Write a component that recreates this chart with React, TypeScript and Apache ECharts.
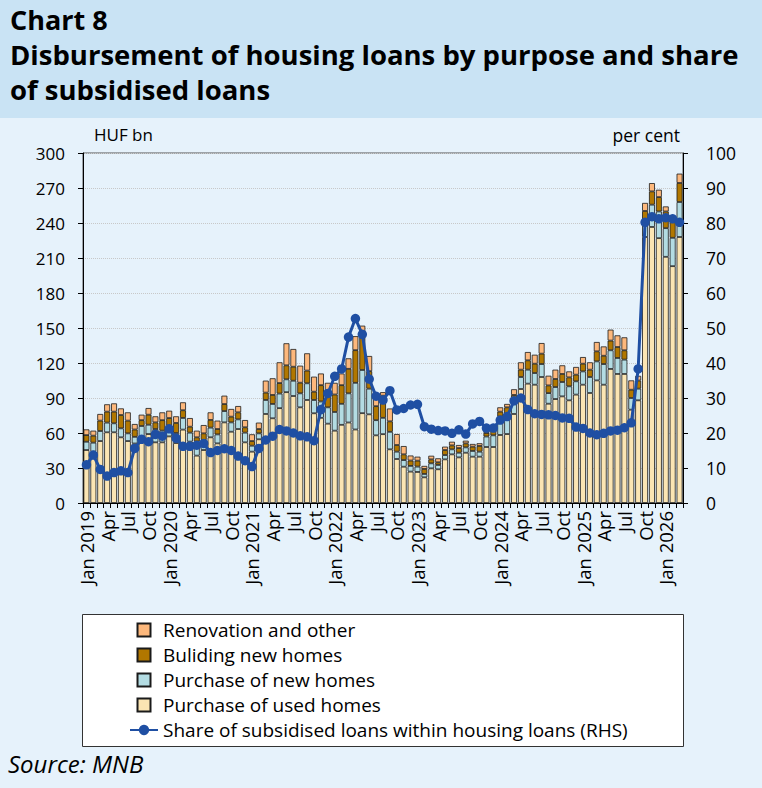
import React, { useEffect, useRef } from "react";
import * as echarts from "echarts";

const MONTHS = ["Jan", "Feb", "Mar", "Apr", "May", "Jun", "Jul", "Aug", "Sep", "Oct", "Nov", "Dec"];
const FIRST_YEAR = 2019;
const MONTH_COUNT = 87; // Jan 2019 – Mar 2026
const categories: string[] = [];
for (let i = 0; i < MONTH_COUNT; i++) {
  const m = i % 12;
  const y = FIRST_YEAR + Math.floor(i / 12);
  categories.push(m === 0 ? `Jan ${y}` : MONTHS[m]);
}

// HUF bn
const usedHomes = [
  45.4, 44, 53.1, 60.6, 60.6, 56.3, 53.1, 51, 57, 59.1, 52, 52,
  57.1, 51.4, 62.9, 52.6, 40.6, 45.4, 56.3, 51.1, 69.1, 61.1, 63.4, 52,
  44, 54.6, 76.3, 72.6, 81.3, 95, 91.7, 82, 88.3, 76.9, 73, 68,
  62, 67, 69, 63, 77, 76, 58, 59, 46, 37.7, 31.1, 26.9,
  26.6, 22, 29.7, 28.9, 37.4, 41.7, 39.1, 43.1, 39.7, 39.7, 48, 48,
  58.3, 59.1, 76.3, 97.7, 102.3, 101.4, 108, 85.1, 89.1, 91.4, 88, 92.9,
  101.4, 94.3, 105.1, 101.4, 114.9, 110.6, 110.6, 80, 88, 228, 236.6, 227,
  211, 203, 228,
];
const newHomes = [
  7.1, 7.7, 8.6, 8.3, 7.7, 7.7, 6.6, 5.7, 9, 8, 11.4, 10,
  9.1, 8.6, 10, 7.7, 12, 8.6, 8.3, 7.7, 9.7, 8, 8.3, 8.3,
  5.1, 5.1, 12, 12.3, 12.5, 11, 13.1, 12, 14.3, 11.4, 14, 14,
  16, 18, 25, 40, 37, 22, 13, 14, 15, 6.3, 5.7, 4.9,
  4.6, 2.9, 4.3, 3.7, 3.7, 4.3, 4, 4.6, 4.9, 4.3, 9, 10,
  15.7, 16.3, 13.4, 10.3, 12, 10, 11.1, 9.1, 10.3, 12.3, 12, 11.4,
  11.4, 13.7, 16.3, 17.7, 16, 13.7, 12.3, 10, 10, 14.3, 19.1, 22.9,
  24.6, 24.3, 30,
];
const buildingNew = [
  5.7, 6, 8.9, 9.4, 10, 11.4, 10.9, 6.3, 5, 8.6, 5.7, 9,
  6.6, 8.6, 6.6, 5.1, 3.7, 5.7, 6.6, 4.6, 6, 4.9, 6, 4.6,
  4, 3.7, 6.3, 7.7, 9, 12, 12, 9.1, 10.9, 7.1, 14, 12,
  15, 16, 21, 28, 28, 15, 12, 19, 9, 5.7, 4.9, 4.6,
  5.1, 4.3, 3.4, 2.3, 4.3, 3.4, 4, 3.4, 3.7, 4.9, 3, 4,
  4.3, 6.6, 2.9, 6.3, 8, 8, 8.9, 6.6, 6.9, 6.9, 7.7, 5.7,
  6.6, 6.3, 8.6, 7.1, 8.3, 9.4, 8, 7.1, 7, 8, 11.4, 12.3,
  14.3, 17, 16.3,
];
const renovation = [
  4.9, 4.3, 5.7, 6.3, 7.1, 5.7, 7.1, 4.7, 4.7, 5.7, 5.2, 6.7,
  6.3, 5.7, 6.8, 7.4, 5.7, 7.1, 6.5, 7.2, 7.2, 6.6, 5.4, 6.2,
  5.8, 5.5, 10.3, 14.3, 17.8, 18.9, 15.2, 14.6, 14.8, 12.9, 10, 9,
  10, 10, 9, 12, 10, 13, 9, 3, 11, 9.4, 7.1, 4.3,
  3.4, 2.6, 3.1, 3.4, 2.9, 3.1, 2.6, 2.3, 2.3, 2.3, 2, 2,
  3.7, 2.9, 4.9, 6.3, 7.1, 7.7, 9.1, 8.3, 8, 7.4, 5.1, 6.6,
  5.7, 6.3, 8, 8, 9.4, 10, 11.1, 8, 4, 6.9, 7.1, 6.3,
  4.3, 1.5, 8,
];
// per cent (RHS)
const subsidisedShare = [
  10.9, 13.7, 9.6, 7.7, 8.7, 9.2, 8.7, 15.6, 18.2, 17.5, 19.6, 19.1,
  21.2, 18.5, 16.2, 16.2, 16.5, 17, 14.4, 15, 15.5, 15, 13.4, 12.1,
  10.4, 15.6, 18, 19.1, 21, 20.6, 20, 19.2, 18.9, 17.8, 26.7, 31.3,
  36.2, 38.3, 47.4, 52.7, 48.2, 35.4, 30.5, 29.4, 32.1, 26.6, 27, 28,
  28.2, 21.8, 21.1, 20.7, 20.6, 19.9, 20.9, 19.7, 22.6, 23.3, 21.4, 21.4,
  23.7, 24.7, 29.2, 30, 26.7, 25.5, 25.3, 25.2, 25, 24.3, 24.2, 21.7,
  21.3, 20, 19.5, 19.9, 20.6, 20.8, 21.5, 22.9, 38.3, 80.2, 81.8, 81.2,
  81.5, 81.2, 80.2,
];

const FONT = "Open Sans";
const SQUARE = "path://M0,0h10v10h-10z";

export default function App() {
  const ref = useRef<HTMLDivElement>(null);
  useEffect(() => {
    if (!ref.current) return;
    const chart = echarts.init(ref.current, undefined, { renderer: "svg" });
    const barBorder = { borderColor: "#1a1a1a", borderWidth: 0.8 };
    chart.setOption({
      animation: false,
      backgroundColor: "#e6f2fb",
      textStyle: { fontFamily: FONT },
      graphic: [
        { type: "rect", left: 0, top: 0, shape: { width: 762, height: 118 }, style: { fill: "#c9e3f4" }, silent: true, z: -10 },
        { type: "text", left: 10, top: 6, style: { text: "Chart 8", font: `bold 27px ${FONT}`, fill: "#000" } },
        { type: "text", left: 10, top: 40, style: { text: "Disbursement of housing loans by purpose and share", font: `bold 27.5px ${FONT}`, fill: "#000" } },
        { type: "text", left: 10, top: 75, style: { text: "of subsidised loans", font: `bold 27.5px ${FONT}`, fill: "#000" } },
        { type: "text", left: 94, top: 126, style: { text: "HUF bn", font: `17px ${FONT}`, fill: "#000" } },
        { type: "text", right: 82, top: 126, style: { text: "per cent", font: `17.5px ${FONT}`, fill: "#000" } },
        { type: "rect", left: 82, top: 614, shape: { width: 601, height: 132 }, style: { fill: "#ffffff", stroke: "#333", lineWidth: 1 }, z: -1 },
        { type: "text", left: 8, top: 751, style: { text: "Source: MNB", font: `italic 24px ${FONT}`, fill: "#000" } },
      ],
      grid: { left: 83, top: 153, width: 600, height: 350, show: true, borderColor: "#555", borderWidth: 1, backgroundColor: "transparent" },
      legend: {
        orient: "vertical",
        left: 124,
        top: 615,
        itemWidth: 28,
        itemHeight: 13,
        itemGap: 5,
        textStyle: { fontSize: 19, lineHeight: 20, fontFamily: FONT, color: "#000" },
        data: [
          { name: "Renovation and other", icon: SQUARE },
          { name: "Buliding new homes", icon: SQUARE },
          { name: "Purchase of new homes", icon: SQUARE },
          { name: "Purchase of used homes", icon: SQUARE },
          { name: "Share of subsidised loans within housing loans (RHS)" },
        ],
      },
      xAxis: {
        type: "category",
        data: categories,
        axisLine: { lineStyle: { color: "#000" } },
        axisTick: { show: true, interval: 0, length: 5, lineStyle: { color: "#000" } },
        axisLabel: { interval: 2, rotate: 90, fontSize: 18.5, color: "#000", fontFamily: FONT, margin: 8 },
      },
      yAxis: [
        {
          type: "value",
          min: 0,
          max: 300,
          interval: 30,
          axisLine: { show: true, lineStyle: { color: "#000" } },
          axisTick: { show: true, length: 5, lineStyle: { color: "#000" } },
          axisLabel: { fontSize: 17, color: "#000", fontFamily: FONT, margin: 18 },
          splitLine: { show: true, lineStyle: { color: "#c8c8c8", type: "dotted" } },
        },
        {
          type: "value",
          min: 0,
          max: 100,
          interval: 10,
          position: "right",
          axisLine: { show: true, lineStyle: { color: "#000" } },
          axisTick: { show: true, length: 5, lineStyle: { color: "#000" } },
          axisLabel: { fontSize: 17.5, color: "#000", fontFamily: FONT, margin: 23 },
          splitLine: { show: false },
        },
      ],
      series: [
        { name: "Purchase of used homes", type: "bar", stack: "loans", data: usedHomes, barCategoryGap: "14%", itemStyle: { color: "#fbe5b3", ...barBorder } },
        { name: "Purchase of new homes", type: "bar", stack: "loans", data: newHomes, itemStyle: { color: "#b3dce3", ...barBorder } },
        { name: "Buliding new homes", type: "bar", stack: "loans", data: buildingNew, itemStyle: { color: "#b17700", ...barBorder } },
        { name: "Renovation and other", type: "bar", stack: "loans", data: renovation, itemStyle: { color: "#fdb87c", ...barBorder } },
        {
          name: "Share of subsidised loans within housing loans (RHS)",
          type: "line",
          yAxisIndex: 1,
          data: subsidisedShare,
          symbol: "circle",
          symbolSize: 9.5,
          showAllSymbol: true,
          lineStyle: { width: 3, color: "#1f4fa3" },
          itemStyle: { color: "#1f4fa3" },
          z: 5,
        },
      ],
    });
    return () => chart.dispose();
  }, []);
  return <div ref={ref} style={{ position: "fixed", left: 0, top: 0, width: 762, height: 788 }} />;
}
